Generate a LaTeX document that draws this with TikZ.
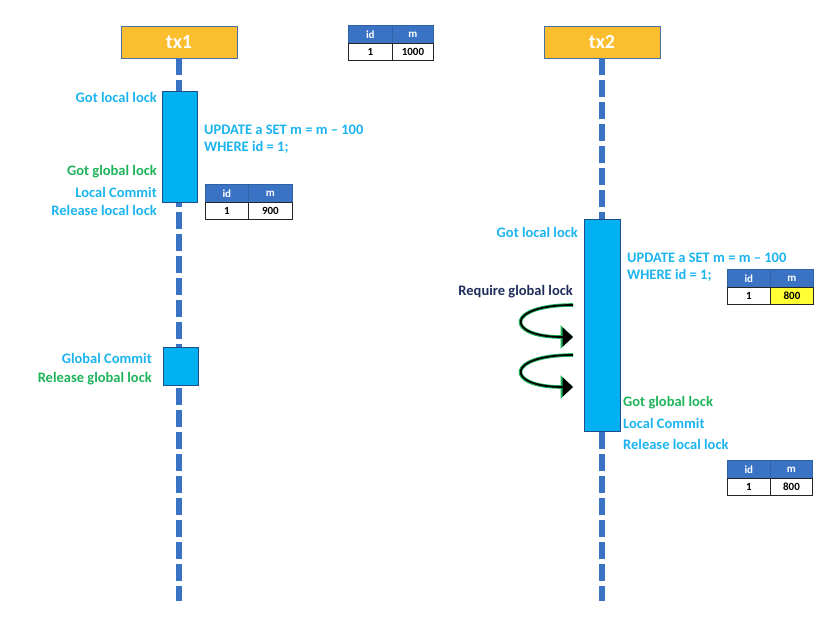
\documentclass[tikz,border=0pt]{standalone}
\usepackage{fontspec}
\setmainfont{Carlito}
\usetikzlibrary{arrows.meta}
\definecolor{txorange}{HTML}{FBBE2E}
\definecolor{txborder}{HTML}{4A6FA8}
\definecolor{lifeblue}{HTML}{3A72C4}
\definecolor{actcyan}{HTML}{00B0F0}
\definecolor{actborder}{HTML}{1F4E8C}
\definecolor{txtcyan}{HTML}{1CB4EE}
\definecolor{txtgreen}{HTML}{1DB35A}
\definecolor{txtnavy}{HTML}{1F2D5C}
\definecolor{hdrblue}{HTML}{3A72C4}
\definecolor{glowgreen}{HTML}{1DB35A}
\definecolor{hiyellow}{HTML}{FFFF33}
\tikzset{
  txbox/.style={draw=txborder, line width=0.8pt, fill=txorange, text=white, font=\bfseries\fontsize{20}{22}\selectfont, minimum width=116pt, minimum height=32pt, inner sep=0pt},
  lifeline/.style={draw=lifeblue, line width=5.5pt, dash pattern=on 17pt off 5pt},
  actbox/.style={draw=actborder, line width=0.7pt, fill=actcyan, inner sep=0pt, anchor=north west},
  lbl/.style={font=\bfseries\fontsize{14.5}{17}\selectfont, inner sep=0pt},
  hdr/.style={draw=hdrblue!85!black, line width=0.6pt, fill=hdrblue, text=white, font=\bfseries\fontsize{11}{12}\selectfont, inner sep=0pt, anchor=north west, minimum height=18pt},
  cellbox/.style={draw=black!85, line width=0.9pt, fill=white, text=black, font=\bfseries\fontsize{11}{12}\selectfont, inner sep=0pt, anchor=north west, minimum height=17pt},
  glow/.style={draw=glowgreen, line width=3.6pt, -{Triangle[length=12.5pt,width=23pt]}},
  blackarrow/.style={draw=black, line width=1.8pt, -{Triangle[length=10.5pt,width=19pt]}}
}
\begin{document}
\begin{tikzpicture}[x=1pt,y=-1pt]
\useasboundingbox (0,0) rectangle (838,635);
% transaction heads
\node[txbox] (tx1) at (179,42) {tx1};
\node[txbox] (tx2) at (602,42) {tx2};
\coordinate (l1end) at (179,601);
\coordinate (l2end) at (602,601);
\draw[lifeline] (tx1.south) -- (l1end);
\draw[lifeline] (tx2.south) -- (l2end);
% activation boxes
\node[actbox, minimum width=35pt, minimum height=111pt] (a1) at (162,91) {};
\node[actbox, minimum width=35pt, minimum height=38pt] (a2) at (163,347) {};
\node[actbox, minimum width=36pt, minimum height=212pt] (a3) at (584,219) {};
% tx1 labels
\node[lbl, text=txtcyan, anchor=east] (g1) at (157,97) {Got local lock};
\node[lbl, text=txtcyan, anchor=west, align=left] (u1) at (204,139.5) {UPDATE a SET m = m -- 100\\WHERE id = 1;};
\node[lbl, text=txtgreen, anchor=east] (gg1) at (157,172) {Got global lock};
\node[lbl, text=txtcyan, anchor=east] (lc1) at (157,192) {Local Commit};
\node[lbl, text=txtcyan, anchor=east] (rl1) at (157,210.5) {Release local lock};
\node[lbl, text=txtcyan, anchor=east] (gc1) at (152,358) {Global Commit};
\node[lbl, text=txtgreen, anchor=east] (rg1) at (152,379) {Release global lock};
% tx2 labels
\node[lbl, text=txtcyan, anchor=east] (g2) at (578,232) {Got local lock};
\node[lbl, text=txtcyan, anchor=west, align=left] (u2) at (627,267.5) {UPDATE a SET m = m -- 100\\WHERE id = 1;};
\node[lbl, text=txtnavy, anchor=east] (rq2) at (573,292) {Require global lock};
\node[lbl, text=txtgreen, anchor=west] (gg2) at (623,403) {Got global lock};
\node[lbl, text=txtcyan, anchor=west] (lc2) at (623,423) {Local Commit};
\node[lbl, text=txtcyan, anchor=west] (rl2) at (623,444) {Release local lock};
% retry arrows
\coordinate (r1s) at (573,305);
\coordinate (r1e) at (573,337);
\coordinate (r2s) at (573,355);
\coordinate (r2e) at (573,387);
\foreach \s/\e in {r1s/r1e, r2s/r2e}{
  \draw[glow] (\s) .. controls +(-68,0) and +(-68,0) .. (\e);
  \draw[blackarrow] (\s) .. controls +(-68,0) and +(-68,0) .. (\e);
}
% tables
\node[hdr, minimum width=44pt] (t1a) at (348,25) {id};
\node[hdr, minimum width=41pt] (t1b) at (392,25) {m};
\node[cellbox, minimum width=44pt] (t1c) at (348,43) {1};
\node[cellbox, minimum width=41pt] (t1d) at (392,43) {1000};

\node[hdr, minimum width=43pt] (t2a) at (205,184) {id};
\node[hdr, minimum width=44pt] (t2b) at (248,184) {m};
\node[cellbox, minimum width=43pt] (t2c) at (205,202) {1};
\node[cellbox, minimum width=44pt] (t2d) at (248,202) {900};

\node[hdr, minimum width=43pt] (t3a) at (727,269) {id};
\node[hdr, minimum width=43pt] (t3b) at (770,269) {m};
\node[cellbox, minimum width=43pt] (t3c) at (727,287) {1};
\node[cellbox, fill=hiyellow, minimum width=43pt] (t3d) at (770,287) {800};

\node[hdr, minimum width=43pt] (t4a) at (727,460) {id};
\node[hdr, minimum width=42pt] (t4b) at (770,460) {m};
\node[cellbox, minimum width=43pt] (t4c) at (727,478) {1};
\node[cellbox, minimum width=42pt] (t4d) at (770,478) {800};
\end{tikzpicture}
\end{document}
